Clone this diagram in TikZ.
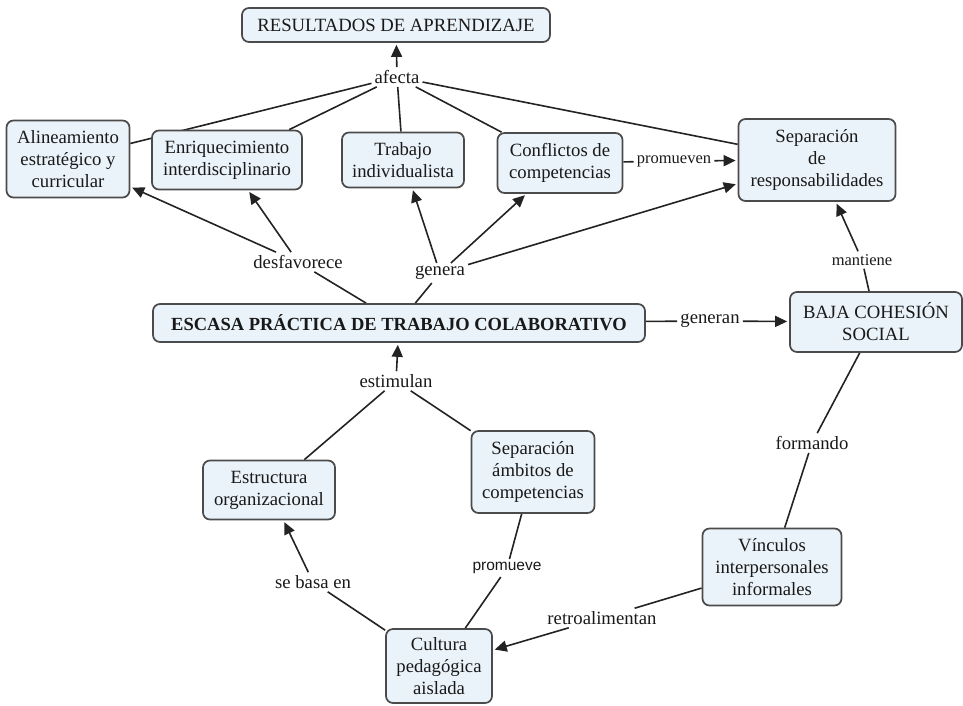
\documentclass[tikz,border=0pt]{standalone}
\usepackage{fontspec}
\setmainfont{Liberation Serif}
\newfontfamily\labsans{Liberation Sans}
\usetikzlibrary{arrows.meta,backgrounds}
\definecolor{boxfill}{RGB}{234,243,249}
\definecolor{boxline}{RGB}{75,75,75}
\definecolor{lncol}{RGB}{35,35,35}
\definecolor{txtcol}{RGB}{25,25,25}
\begin{document}
\begin{tikzpicture}[x=1pt,y=-1pt,
  concept/.style={draw=boxline, line width=1.7pt, fill=boxfill, rounded corners=7pt,
    align=center, text=txtcol, font=\fontsize{18.7}{22}\selectfont, inner sep=2pt},
  lab/.style={align=center, text=txtcol, font=\fontsize{18.7}{22}\selectfont, inner sep=3pt},
  smalllab/.style={text=txtcol, font=\fontsize{16.5}{20}\selectfont, inner sep=3pt},
  sanslab/.style={text=txtcol, font=\labsans\fontsize{15.5}{19}\selectfont, inner sep=3pt},
  conn/.style={draw=lncol, line width=1.6pt},
  arr/.style={conn, -{Triangle[length=12pt,width=11pt]}, shorten >=2pt},
]
\useasboundingbox (0,0) rectangle (963,705);

% concepts
\node[concept, minimum width=308pt, minimum height=34pt] (res) at (396,25) {RESULTADOS DE APRENDIZAJE};
\node[concept, minimum width=123pt, minimum height=77pt] (alin) at (68,159) {Alineamiento\\estratégico y\\curricular};
\node[concept, minimum width=150pt, minimum height=59pt] (enri) at (227,160) {Enriquecimiento\\interdisciplinario};
\node[concept, minimum width=122pt, minimum height=55pt] (trab) at (403,160) {Trabajo\\individualista};
\node[concept, minimum width=125pt, minimum height=60pt] (conf) at (560,163) {Conflictos de\\competencias};
\node[concept, minimum width=157pt, minimum height=82pt] (sepr) at (817,160) {Separación\\de\\responsabilidades};
\node[concept, minimum width=172pt, minimum height=60pt] (baja) at (876,322) {BAJA COHESIÓN\\SOCIAL};
\node[concept, minimum width=492pt, minimum height=38pt, font=\bfseries\fontsize{18.5}{22}\selectfont] (escasa) at (399,323) {ESCASA PRÁCTICA DE TRABAJO COLABORATIVO};
\node[concept, minimum width=132pt, minimum height=59pt] (estr) at (269,490) {Estructura\\organizacional};
\node[concept, minimum width=123pt, minimum height=82pt] (sepa) at (533,472) {Separación\\ámbitos de\\competencias};
\node[concept, minimum width=106pt, minimum height=74pt] (cult) at (439,666) {Cultura\\pedagógica\\aislada};
\node[concept, minimum width=139pt, minimum height=77pt] (vinc) at (772,567) {Vínculos\\interpersonales\\informales};

% linking phrases
\node[lab] (afecta) at (397,77) {afecta};
\node[lab] (desfav) at (298,262) {desfavorece};
\node[lab] (genera) at (440,273) {genera};
\node[smalllab] (promueven) at (674,161) {promueven};
\node[smalllab] (mantiene) at (862,260) {mantiene};
\node[lab] (generan) at (710,321) {generan};
\node[lab] (estimulan) at (396,381) {estimulan};
\node[lab] (sebasa) at (313,582) {se basa en};
\node[sanslab] (promueve) at (507,568) {promueve};
\node[lab] (retro) at (602,618) {retroalimentan};
\node[lab] (formando) at (812,443) {formando};

\begin{scope}[on background layer]
\draw[conn] (afecta) -- (alin);
\draw[conn] (afecta) -- (enri);
\draw[conn] (afecta) -- (trab);
\draw[conn] (afecta) -- (conf);
\draw[conn] (afecta) -- (sepr);
\draw[arr] (afecta) -- (res);
\draw[conn] (conf) -- (promueven);
\draw[arr] (promueven) -- (sepr);
\draw[conn] (escasa) -- (desfav);
\draw[arr] (desfav) -- (alin);
\draw[arr] (desfav) -- (enri);
\draw[conn] (escasa) -- (genera);
\draw[arr] (genera) -- (trab);
\draw[arr] (genera) -- (conf);
\draw[arr] (genera) -- (sepr);
\draw[conn] (escasa) -- (generan);
\draw[arr] (generan) -- (baja);
\draw[conn] (baja) -- (mantiene);
\draw[arr] (mantiene) -- (sepr);
\draw[conn] (baja) -- (formando);
\draw[conn] (formando) -- (vinc);
\draw[conn] (vinc) -- (retro);
\draw[arr] (retro) -- (cult);
\draw[conn] (cult) -- (sebasa);
\draw[arr] (sebasa) -- (estr);
\draw[conn] (cult) -- (promueve);
\draw[conn] (promueve) -- (sepa);
\draw[conn] (estr) -- (estimulan);
\draw[conn] (sepa) -- (estimulan);
\draw[arr] (estimulan) -- (escasa);
\end{scope}
\end{tikzpicture}
\end{document}
